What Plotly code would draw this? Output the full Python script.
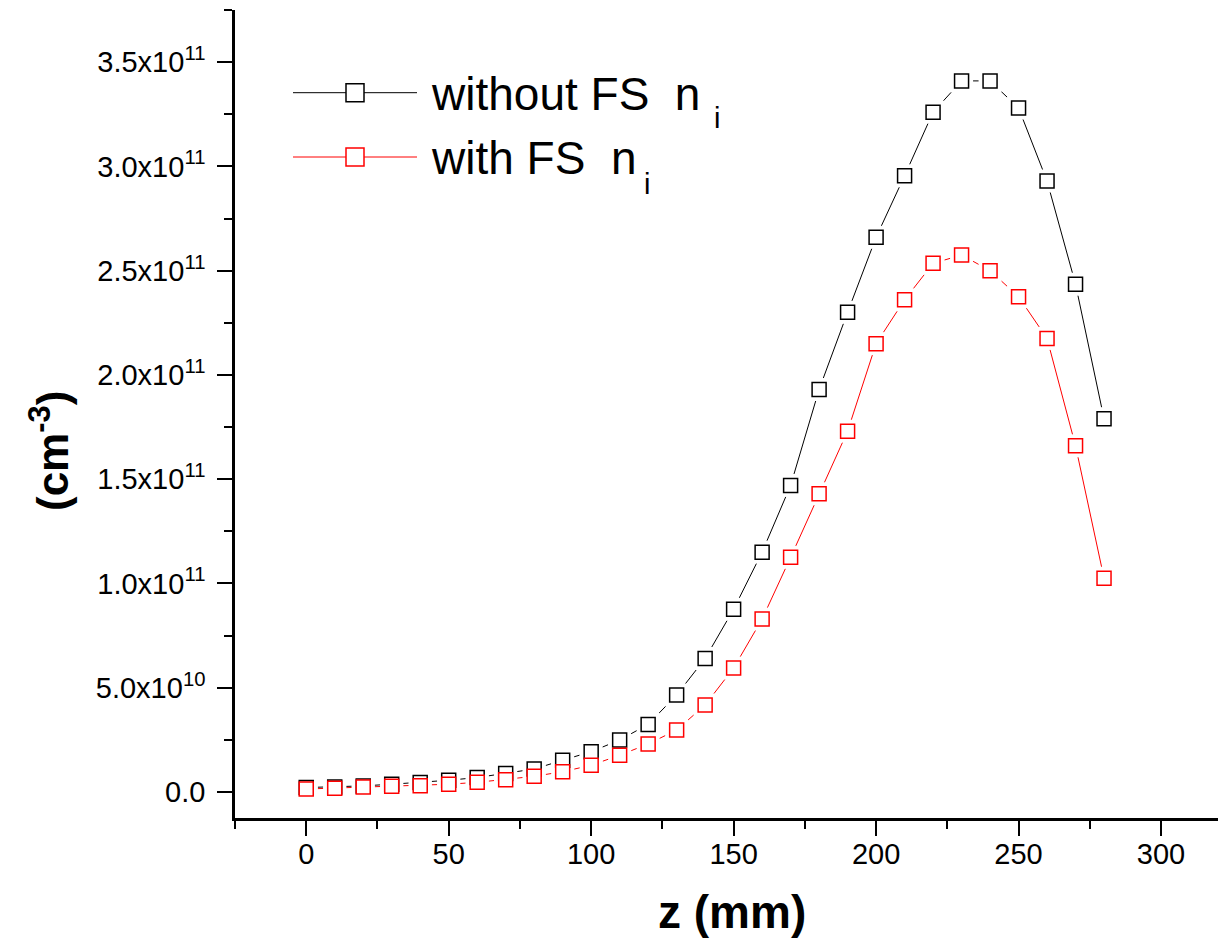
import plotly.graph_objects as go

z_mm = [0, 10, 20, 30, 40, 50, 60, 70, 80, 90, 100, 110, 120, 130, 140,
        150, 160, 170, 180, 190, 200, 210, 220, 230, 240, 250, 260, 270, 280]

ni_without_fs = [2.1e9, 2.4e9, 2.9e9, 3.7e9, 4.5e9, 5.6e9, 6.9e9, 8.8e9, 1.1e10,
                 1.52e10, 1.93e10, 2.49e10, 3.24e10, 4.65e10, 6.4e10, 8.76e10,
                 1.15e11, 1.47e11, 1.93e11, 2.30e11, 2.66e11, 2.955e11, 3.26e11,
                 3.41e11, 3.41e11, 3.28e11, 2.93e11, 2.435e11, 1.79e11]

ni_with_fs = [1.4e9, 1.8e9, 2.4e9, 2.7e9, 3.0e9, 3.7e9, 4.6e9, 5.9e9, 7.5e9,
              9.7e9, 1.28e10, 1.76e10, 2.3e10, 2.97e10, 4.17e10, 5.94e10,
              8.29e10, 1.125e11, 1.43e11, 1.73e11, 2.15e11, 2.36e11, 2.535e11,
              2.575e11, 2.50e11, 2.375e11, 2.175e11, 1.66e11, 1.025e11]

series_names = ["without FS&nbsp; n", "with FS&nbsp; n"]
series_subscripts = ["i", "i"]
series_colors = ["#000000", "#ff0000"]

x_tickvals = [0, 50, 100, 150, 200, 250, 300]
y_tickvals = [0, 5e10, 1e11, 1.5e11, 2e11, 2.5e11, 3e11, 3.5e11]
y_ticktext = ["0.0", "5.0x10<sup>10</sup>", "1.0x10<sup>11</sup>", "1.5x10<sup>11</sup>",
              "2.0x10<sup>11</sup>", "2.5x10<sup>11</sup>", "3.0x10<sup>11</sup>",
              "3.5x10<sup>11</sup>"]
y_minor = [2.5e10, 7.5e10, 1.25e11, 1.75e11, 2.25e11, 2.75e11, 3.25e11, 3.75e11]
x_minor = [-25, 25, 75, 125, 175, 225, 275]

FONT = "Arial, Liberation Sans, sans-serif"
ys = [ni_without_fs, ni_with_fs]

fig = go.Figure()
# connecting lines
for y, c in zip(ys, series_colors):
    fig.add_trace(go.Scatter(x=z_mm, y=y, mode="lines", line=dict(color=c, width=1),
                             showlegend=False, hoverinfo="skip"))
# white gaps around symbols (Origin style)
for y in ys:
    fig.add_trace(go.Scatter(x=z_mm, y=y, mode="markers",
                             marker=dict(symbol="square", size=23, color="white",
                                         line=dict(width=0)),
                             showlegend=False, hoverinfo="skip"))
# symbols
for y, c, n, s in zip(ys, series_colors, series_names, series_subscripts):
    fig.add_trace(go.Scatter(x=z_mm, y=y, mode="markers", name=n + "<sub>" + s + "</sub>",
                             marker=dict(symbol="square", size=14, color="white",
                                         line=dict(width=1.5, color=c)),
                             showlegend=False))

# plot-area pixel geometry helpers for the custom legend
L, R, T, B = 235, 0, 10, 125
W, H = 1218, 943
pw, ph = W - L - R, H - T - B

def px_x(p):
    return (p - L) / pw

def px_y(q):
    return (H - B - q) / ph

legend_rows = [92.7, 157.0]
sub_pos = [(717, 118), (647, 184)]
for row, c, n, s, sp in zip(legend_rows, series_colors, series_names,
                            series_subscripts, sub_pos):
    fig.add_shape(type="line", xref="paper", yref="paper",
                  x0=px_x(293), x1=px_x(417), y0=px_y(row), y1=px_y(row),
                  line=dict(color=c, width=1))
    fig.add_shape(type="rect", xref="paper", yref="paper",
                  x0=px_x(355 - 9), x1=px_x(355 + 9),
                  y0=px_y(row + 9), y1=px_y(row - 9),
                  fillcolor="white", line=dict(color=c, width=1.5))
    fig.add_annotation(text=n, xref="paper", yref="paper", x=px_x(429), y=px_y(row + 1),
                       xanchor="left", yanchor="middle", showarrow=False,
                       font=dict(family=FONT, size=46, color="black"))
    fig.add_annotation(text=s, xref="paper", yref="paper", x=px_x(sp[0]), y=px_y(sp[1]),
                       xanchor="center", yanchor="middle", showarrow=False,
                       font=dict(family=FONT, size=29, color="black"))

# axis titles
fig.add_annotation(text="<b>z (mm)</b>", xref="paper", yref="paper",
                   x=px_x(732), y=px_y(912), xanchor="center", yanchor="middle",
                   showarrow=False, font=dict(family=FONT, size=46, color="black"))
fig.add_annotation(text="<b>(cm<sup>-3</sup>)</b>", xref="paper", yref="paper",
                   x=px_x(50), y=px_y(451), xanchor="center", yanchor="middle",
                   textangle=-90, showarrow=False,
                   font=dict(family=FONT, size=44, color="black"))

fig.update_layout(
    width=W, height=H,
    margin=dict(l=L, r=R, t=T, b=B, pad=0),
    plot_bgcolor="white", paper_bgcolor="white",
    showlegend=False,
    font=dict(family=FONT, color="black"),
    xaxis=dict(range=[-25, 320], tickmode="array", tickvals=x_tickvals,
               ticks="outside", ticklen=15, tickwidth=2, tickcolor="black",
               showline=True, linewidth=2.5, linecolor="black",
               showgrid=False, zeroline=False,
               ticklabelstandoff=-7,
               tickfont=dict(family=FONT, size=29, color="black"),
               minor=dict(tickmode="array", tickvals=x_minor,
                          ticks="outside", ticklen=8, tickwidth=2, tickcolor="black",
                          showgrid=False)),
    yaxis=dict(range=[-1.25e10, 3.75e11], tickmode="array", tickvals=y_tickvals,
               ticktext=y_ticktext,
               ticks="outside", ticklen=15, tickwidth=2, tickcolor="black",
               showline=True, linewidth=2.5, linecolor="black",
               showgrid=False, zeroline=False,
               tickfont=dict(family=FONT, size=29, color="black"),
               ticklabelstandoff=6,
               minor=dict(tickmode="array", tickvals=y_minor,
                          ticks="outside", ticklen=8, tickwidth=2, tickcolor="black",
                          showgrid=False)),
)

fig.write_html("out.html")
